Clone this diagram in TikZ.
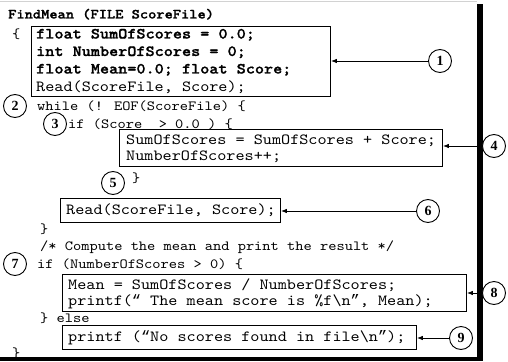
\documentclass[tikz,border=0pt]{standalone}
\usepackage{fontspec}
\newfontfamily\numfont{Liberation Serif}
% Courier-like proportions: Latin Modern Mono set a little wider
\newfontfamily\monofont{lmmono10-regular.otf}[FakeStretch=1.12]
\newfontfamily\monofontb{lmmonolt10-bold.otf}[FakeStretch=1.12, FakeBold=1.2]
\newfontfamily\quotefont{Liberation Mono}
\newcommand\oquote{{\quotefont\fontsize{15.2}{17}\selectfont “}}
\newcommand\cquote{{\quotefont\fontsize{15.2}{17}\selectfont ”}}
\usetikzlibrary{arrows.meta}
\begin{document}
\begin{tikzpicture}[x=1pt,y=-1pt,
  code/.style={anchor=base west, inner sep=0pt, font=\monofont\fontsize{14}{17}\selectfont},
  codeb/.style={code, font=\monofontb\fontsize{14}{17}\selectfont},
  incode/.style={code, font=\monofont\fontsize{15.5}{17}\selectfont},
  incodeb/.style={code, font=\monofontb\fontsize{15.5}{17}\selectfont},
  box/.style={draw, line width=0.9pt, inner sep=0pt, anchor=north west},
  tag/.style={circle, draw, line width=0.9pt, fill=white, minimum size=23pt, inner sep=0pt,
              font=\numfont\bfseries\fontsize{14}{14}\selectfont},
  pointer/.style={-{Latex[length=6pt,width=4.5pt]}, line width=0.8pt}]
\useasboundingbox (0,0) rectangle (508,361);

% frame: thin top rule, heavy right and bottom rules
\draw[gray!35, line width=0.6pt] (0,1) -- (477,1);
\fill (477,4) rectangle (483,361);
\fill (0,357) rectangle (483,361);

% header
\node[codeb] (hdr) at (8,18.5) {FindMean (FILE ScoreFile)};
\node[code] (ob1) at (12,38.5) {\{};

% declarations
\node[box, minimum width=299pt, minimum height=70pt] (b1) at (31,26) {};
\node[incodeb] (d1) at (36,38.5) {float SumOfScores = 0.0;};
\node[incodeb] (d2) at (36,56) {int NumberOfScores = 0;};
\node[incodeb] (d3) at (36,73.5) {float Mean=0.0; float Score;};
\node[incode]  (d4) at (36,91.5) {Read(ScoreFile, Score);};

% loop
\node[code] (wh) at (37,110.5) {while (! EOF(ScoreFile) \{};
\node[code] (if1) at (68,128.5) {if (Score\ \ > 0.0 ) \{};
\node[box, minimum width=323pt, minimum height=37pt] (b4) at (119,129) {};
\node[incode] (s1) at (126,144.5) {SumOfScores = SumOfScores + Score;};
\node[incode] (s2) at (126,160.5) {NumberOfScores++;};
\node[code] (cb1) at (132,182.5) {\}};
\node[box, minimum width=220pt, minimum height=24pt] (b6) at (60,198) {};
\node[incode] (rd) at (66,214.5) {Read(ScoreFile, Score);};
\node[code] (cb2) at (40,233.5) {\}};

% result
\node[code] (cm) at (40,250.5) {/* Compute the mean and print the result */};
\node[code] (if2) at (37,268.5) {if (NumberOfScores > 0) \{};
\node[box, minimum width=404pt, minimum height=37pt] (b8) at (62,274) {};
\node[incode] (m1) at (68,289.5) {Mean = SumOfScores / NumberOfScores;};
\node[incode] (m2) at (68,305.5) {printf(\oquote{} The mean score is \%f\textbackslash n\cquote, Mean);};
\node[code] (el) at (40,322.5) {\} else};
\node[box, minimum width=354pt, minimum height=24pt] (b9) at (62,325) {};
\node[incode] (pf) at (68,341.5) {printf (\oquote No scores found in file\textbackslash n\cquote);};
\node[code] (cb3) at (12,357.5) {\}};

% numbered tags
\node[tag] (c1) at (440,61) {1};
\node[tag] (c2) at (15,106) {2};
\node[tag] (c3) at (55,124) {3};
\node[tag] (c4) at (494,146) {4};
\node[tag] (c5) at (113,183) {5};
\node[tag] (c6) at (428,211) {6};
\node[tag] (c7) at (15,264) {7};
\node[tag] (c8) at (494,293) {8};
\node[tag] (c9) at (461,338) {9};

% pointers from tags to blocks
\draw[pointer] (c1.west) -- (c1.west -| b1.east);
\draw[pointer] (c4.west) -- (c4.west -| b4.east);
\draw[pointer] (c6.west) -- (c6.west -| b6.east);
\draw[pointer] (c8.west) -- (c8.west -| b8.east);
\draw[pointer] (c9.west) -- (c9.west -| b9.east);
\end{tikzpicture}
\end{document}
